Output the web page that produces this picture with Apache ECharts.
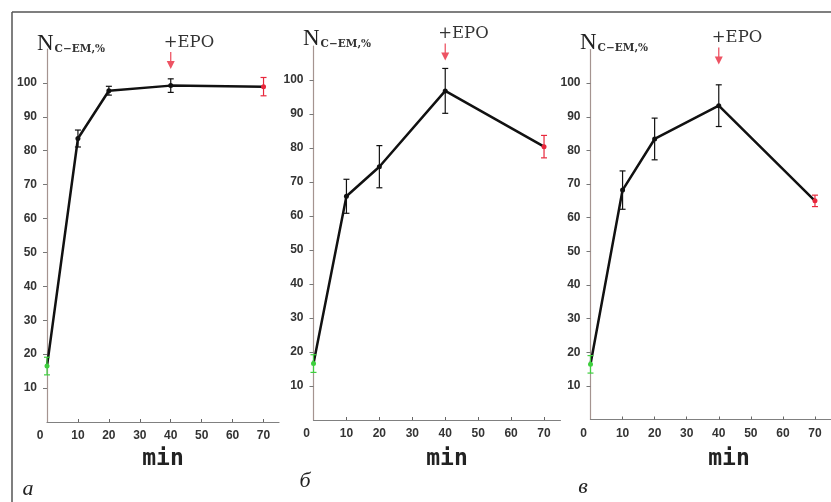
<!DOCTYPE html>
<html>
<head>
<meta charset="utf-8">
<script src="https://cdn.jsdelivr.net/npm/echarts@6/dist/echarts.min.js"></script>
<style>
html, body { margin: 0; padding: 0; background: #fff; }
#chart { width: 831px; height: 502px; }
</style>
</head>
<body>
<div id="chart"></div>
<script>
// time points, min
var times = [0, 10, 20, 40, 70];
// N C-EM, % (mean and error) for the three panels
var meanA = [16.5, 83.6, 97.7, 99.2, 98.9];
var errA = [2.6, 2.5, 1.3, 2.0, 2.7];
var meanB = [16.6, 65.8, 74.5, 96.8, 80.4];
var errB = [2.6, 5.0, 6.2, 6.6, 3.3];
var meanC = [16.4, 68.2, 83.4, 93.3, 65.0];
var errC = [2.6, 5.7, 6.2, 6.2, 1.7];

var xTicks = [0, 10, 20, 30, 40, 50, 60, 70];
var yTicks = [10, 20, 30, 40, 50, 60, 70, 80, 90, 100];
var epoTime = 40;
var panelNames = ['а', 'б', 'в'];

var chart = echarts.init(document.getElementById('chart'));

var grids = [
    { left: 47, top: 49, width: 232, height: 373 },
    { left: 313.5, top: 46, width: 247, height: 374 },
    { left: 590.5, top: 49.5, width: 250, height: 370 }
];
var arrowY = [106.6, 108.2, 108.1];
var titlePos = [[32, 27], [298, 22], [575, 26]];
var minPos = [[163, 459], [447, 459], [729, 459]];
var letterPos = [[28, 489], [305, 481], [583, 487]];

var green = '#3ecf3e', red = '#e8283c', black = '#111';

function pointColor(i, n) {
    if (i === 0) return green;
    if (i === n - 1) return red;
    return black;
}

var arrowPath = 'path://M4.2,0 L5.8,0 L5.8,9 L10,9 L5,17 L0,9 L4.2,9 Z';

var xAxes = [], yAxes = [], series = [], titles = [], graphics = [];
[[meanA, errA], [meanB, errB], [meanC, errC]].forEach(function (pair, k) {
    var mean = pair[0], err = pair[1];
    xAxes.push({
        type: 'value', gridIndex: k, min: 0, max: 75,
        axisLine: { lineStyle: { color: '#808080', width: 1.2 } },
        axisTick: { show: true, inside: true, length: 3, customValues: xTicks.slice(1), lineStyle: { color: '#666' } },
        splitLine: { show: false },
        axisLabel: {
            customValues: xTicks, margin: 8,
            color: '#333', fontFamily: 'Liberation Sans', fontSize: 12, fontWeight: 'bold',
            formatter: function (v) { return v === 0 ? '{z|0}' : String(v); },
            rich: { z: { padding: [0, 14, 0, 0], color: '#333', fontFamily: 'Liberation Sans', fontSize: 12, fontWeight: 'bold' } }
        }
    });
    yAxes.push({
        type: 'value', gridIndex: k, min: 0, max: 110,
        axisLine: { show: true, lineStyle: { color: '#a59490', width: 1.2 } },
        axisTick: { show: true, length: 4, customValues: yTicks, lineStyle: { color: '#777' } },
        splitLine: { show: false },
        axisLabel: {
            customValues: yTicks, margin: 10,
            color: '#333', fontFamily: 'Liberation Sans', fontSize: 12, fontWeight: 'bold'
        }
    });
    var n = times.length;
    var lineData = times.map(function (t, i) {
        return { value: [t, mean[i]], itemStyle: { color: pointColor(i, n) } };
    });
    series.push({
        type: 'line', xAxisIndex: k, yAxisIndex: k, data: lineData,
        symbol: 'circle', symbolSize: 5, z: 3,
        lineStyle: { color: black, width: 2.5 }
    });
    series.push({
        type: 'custom', xAxisIndex: k, yAxisIndex: k, z: 4,
        data: times.map(function (t, i) { return [t, mean[i], err[i]]; }),
        renderItem: function (params, api) {
            var x = api.value(0), m = api.value(1), e = api.value(2);
            var hi = api.coord([x, m + e]), lo = api.coord([x, m - e]);
            var c = pointColor(params.dataIndex, n);
            var w = 3;
            var st = { stroke: c, lineWidth: 1.2 };
            return {
                type: 'group',
                children: [
                    { type: 'line', shape: { x1: hi[0], y1: hi[1], x2: lo[0], y2: lo[1] }, style: st },
                    { type: 'line', shape: { x1: hi[0] - w, y1: hi[1], x2: hi[0] + w, y2: hi[1] }, style: st },
                    { type: 'line', shape: { x1: lo[0] - w, y1: lo[1], x2: lo[0] + w, y2: lo[1] }, style: st }
                ]
            };
        }
    });
    series.push({
        type: 'scatter', xAxisIndex: k, yAxisIndex: k, clip: false, z: 5,
        data: [[epoTime, arrowY[k]]],
        symbol: arrowPath, symbolSize: [8, 17],
        itemStyle: { color: red },
        label: {
            show: true, position: 'top', distance: 1, formatter: '+EPO',
            align: 'left', offset: [-7, 0],
            fontFamily: 'DejaVu Serif', fontSize: 16.5, color: '#000'
        },
        silent: true
    });
    titles.push({
        left: titlePos[k][0], top: titlePos[k][1],
        text: '{n|N}{s|C−EM,%}',
        textStyle: {
            fontWeight: 'normal',
            rich: {
                n: { fontFamily: 'Liberation Serif', fontSize: 23, fontWeight: 'normal', color: '#222', verticalAlign: 'bottom', lineHeight: 23 },
                s: { fontFamily: 'DejaVu Serif', fontSize: 10.5, fontWeight: 'bold', color: '#333', verticalAlign: 'bottom', lineHeight: 14, padding: [0, 0, 0, 1] }
            }
        }
    });
    graphics.push({
        type: 'text', x: minPos[k][0], y: minPos[k][1],
        style: { text: 'min', fontFamily: 'DejaVu Sans Mono', fontSize: 23, fontWeight: 'bold', fill: '#222', align: 'center', verticalAlign: 'middle' }
    });
    graphics.push({
        type: 'text', x: letterPos[k][0], y: letterPos[k][1],
        style: { text: panelNames[k], fontFamily: 'Liberation Serif', fontStyle: 'italic', fontSize: 22, fill: '#222', align: 'center', verticalAlign: 'middle' }
    });
});

// frame lines
graphics.push({ type: 'line', shape: { x1: 12, y1: 12, x2: 831, y2: 12 }, style: { stroke: '#555', lineWidth: 1.5 } });
graphics.push({ type: 'line', shape: { x1: 12, y1: 12, x2: 12, y2: 502 }, style: { stroke: '#555', lineWidth: 1.5 } });

chart.setOption({
    backgroundColor: '#fff',
    animation: false,
    title: titles,
    grid: grids,
    xAxis: xAxes,
    yAxis: yAxes,
    series: series,
    graphic: graphics
});
</script>
</body>
</html>
